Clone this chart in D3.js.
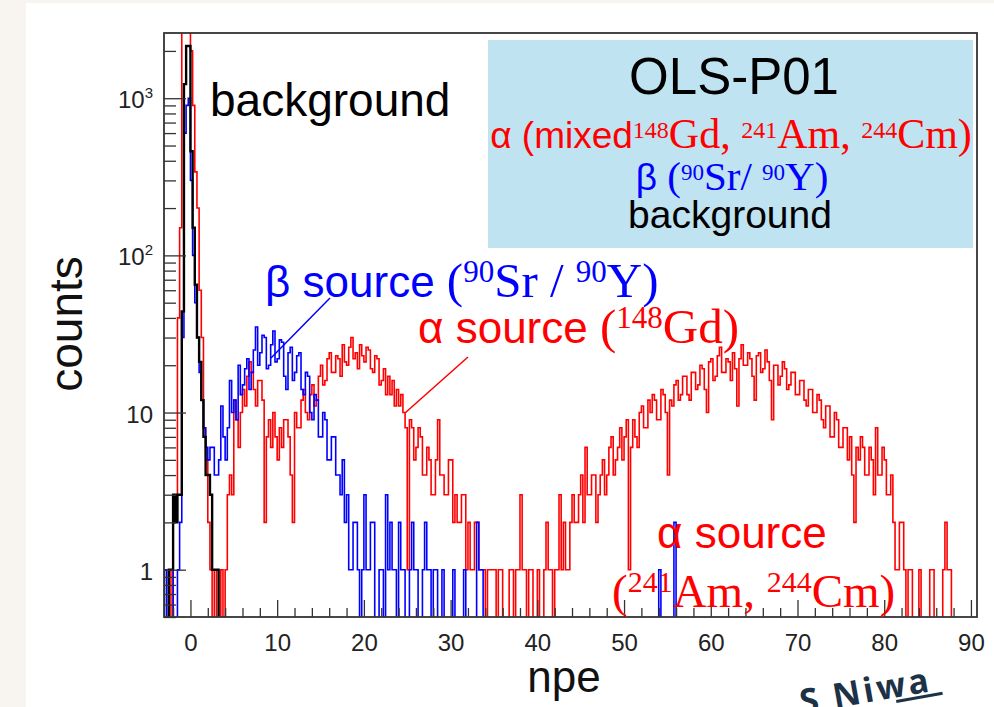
<!DOCTYPE html>
<html>
<head>
<meta charset="utf-8">
<script src="https://cdn.jsdelivr.net/npm/d3@7"></script>
<style>
    body { margin: 0; background: #f8f5f0; }
    svg { display: block; }
    text { white-space: pre; }
</style>
</head>
<body>
<div id="chart"></div>
<script>
// histogram binning (npe)
const binStart = -3,
    binWidth = 0.25;

// alpha source (mixed 148Gd, 241Am, 244Cm), counts per bin
const alphaCounts = [
    0, 0, 1, 0, 2, 3, 40, 150, 3000, 3000, 3500, 3500, 2000, 900, 340, 200, 60, 30, 8, 5,
    2, 1, 0, 1, 0, 0, 1, 0, 1, 3, 4, 3, 12, 9, 6, 10, 14, 11, 17, 21,
    18, 14, 11, 16, 16, 12, 2, 7, 9, 6, 10, 7, 5, 8, 6, 9, 9, 7, 4, 2,
    10, 8, 8, 12, 14, 10, 9, 13, 15, 11, 12, 17, 20, 15, 16, 22, 24, 18, 18, 23,
    22, 17, 27, 21, 20, 26, 30, 22, 24, 19, 27, 23, 21, 26, 25, 19, 18, 23, 22, 15,
    16, 19, 13, 17, 13, 16, 11, 14, 11, 13, 10, 8, 1, 9, 8, 5, 6, 8, 7, 4,
    4, 6, 5, 3, 3, 5, 9, 4, 4, 3, 3, 5, 5, 2, 3, 2, 2, 3, 3, 1,
    2, 1, 1, 2, 2, 1, 1, 1, 0, 1, 1, 1, 1, 0, 1, 1, 0, 0, 0, 1,
    1, 0, 1, 1, 3, 1, 1, 0, 1, 1, 0, 0, 1, 0, 0, 1, 2, 1, 1, 0,
    1, 1, 3, 1, 2, 1, 1, 2, 3, 2, 2, 3, 4, 2, 6, 3, 3, 4, 4, 2,
    3, 4, 5, 3, 4, 6, 7, 4, 5, 6, 8, 5, 7, 9, 1, 6, 9, 7, 6, 10,
    11, 8, 8, 12, 10, 13, 12, 9, 9, 14, 13, 10, 4, 12, 11, 15, 16, 12, 13, 17,
    17, 13, 12, 18, 18, 14, 15, 20, 19, 14, 10, 21, 22, 16, 17, 23, 26, 18, 18, 22,
    21, 16, 24, 19, 11, 22, 27, 20, 20, 24, 22, 17, 12, 23, 24, 18, 19, 25, 21, 16,
    9, 20, 20, 15, 17, 21, 19, 14, 15, 18, 18, 13, 13, 16, 16, 12, 11, 14, 14, 10,
    10, 13, 12, 9, 8, 11, 11, 7, 7, 10, 9, 6, 6, 8, 8, 5, 7, 4, 2, 6,
    5, 7, 6, 4, 4, 6, 5, 3, 8, 4, 4, 6, 5, 3, 3, 4, 2, 1, 1, 2,
    2, 1, 0, 1, 1, 0, 0, 0, 1, 0, 0, 0, 0, 1, 1, 0, 0, 0, 0, 1,
    2, 1, 1, 0, 0, 0, 0, 0, 0, 0, 0, 0
];

// beta source (90Sr / 90Y)
const betaCounts = [
    1, 0, 1, 1, 0, 0, 1, 2, 30, 600, 900, 1000, 300, 100, 50, 30, 18, 12, 8, 6,
    5, 6, 6, 4, 4, 5, 11, 7, 5, 8, 16, 10, 12, 9, 20, 13, 15, 19, 22, 14,
    18, 25, 35, 20, 24, 31, 30, 19, 20, 27, 33, 21, 22, 29, 28, 17, 14, 24, 26, 16,
    18, 23, 24, 14, 13, 18, 17, 10, 9, 13, 12, 7, 7, 10, 9, 5, 5, 7, 7, 4,
    4, 3, 5, 2, 3, 1, 1, 2, 2, 1, 0, 1, 3, 1, 1, 2, 2, 0, 0, 1,
    1, 0, 3, 1, 2, 1, 1, 0, 2, 1, 1, 0, 0, 1, 2, 1, 1, 0, 0, 1,
    2, 1, 1, 0, 1, 1, 0, 0, 1, 0, 0, 0, 0, 1, 0, 0, 0, 0, 1, 0,
    0, 0, 0, 0, 2, 1, 1, 0, 0, 0, 0, 0, 0, 0, 0, 0, 0, 0, 0, 0,
    0, 0, 0, 0, 0, 0, 0, 0, 0, 0, 0, 0, 0, 0, 0, 0, 0, 0, 0, 0,
    0, 0, 0, 0, 0, 0, 0, 0, 0, 0, 0, 0, 0, 0, 0, 0, 0, 0, 0, 0,
    0, 0, 0, 0, 0, 0, 0, 0, 0, 0, 0, 0, 0, 0, 0, 0, 0, 0, 0, 0,
    0, 0, 0, 0, 0, 0, 0, 0, 1, 0, 0, 0, 0, 0, 0, 2
];

// background
const bgCounts = [
    0, 0, 1, 1, 3, 2, 3, 3, 44, 1230, 2150, 2150, 460, 150, 65, 30, 21, 12, 7, 4,
    4, 3, 1, 1, 1, 0
];

// axis ticks and labels
const xMajorTicks = [0, 10, 20, 30, 40, 50, 60, 70, 80, 90];
const yMajorTicks = [1, 10, 100, 1000];
const yTickLabels = [["1", ""], ["10", ""], ["10", "2"], ["10", "3"]];

const sansFont = "'Liberation Sans', Arial, Helvetica, sans-serif",
    serifFont = "'Liberation Serif', 'Times New Roman', serif";

// text pieces: [text, serif?, size, raise]
const legendTitle = [["OLS-P01", false, 51, 0]];
const legendAlpha = [["α (mixed", false, 37, 0], ["148", true, 24, 10], ["Gd, ", true, 42, 0],
    ["241", true, 24, 10], ["Am, ", true, 42, 0], ["244", true, 24, 10], ["Cm)", true, 42, 0]];
const legendBeta = [["β ", false, 37, 0], ["(", true, 41, 0], ["90", true, 23, 10], ["Sr/ ", true, 41, 0],
    ["90", true, 23, 10], ["Y)", true, 41, 0]];
const legendBg = [["background", false, 39, 0]];

const noteBeta = [["β source ", false, 44, 0], ["(", true, 49, 0], ["90", true, 31, 15], ["Sr / ", true, 49, 0],
    ["90", true, 31, 15], ["Y)", true, 49, 0]];
const noteAlphaGd = [["α source ", false, 44, 0], ["(", true, 49, 0], ["148", true, 31, 15], ["Gd)", true, 49, 0]];
const noteAlphaAm1 = [["α source", false, 44, 0]];
const noteAlphaAm2 = [["(", true, 47, 0], ["241", true, 30, 15], ["Am, ", true, 47, 0], ["244", true, 30, 15], ["Cm)", true, 47, 0]];
const noteBg = [["background", false, 46, 0]];

// layout
const svgWidth = 994,
    svgHeight = 707,
    frame = { left: 164, right: 977, top: 33, bottom: 617 };

let svg = d3.select("#chart").append("svg")
    .attr("width", svgWidth)
    .attr("height", svgHeight);

// page backgrounds
svg.append("rect")
    .attr("width", svgWidth).attr("height", svgHeight)
    .attr("fill", "#f8f5f0");
svg.append("rect")
    .attr("x", 26).attr("y", 3)
    .attr("width", svgWidth - 26).attr("height", svgHeight - 3)
    .attr("fill", "#ffffff");

// scales
let xScale = d3.scaleLinear()
    .domain([-3.05, 90.7])
    .range([frame.left, frame.right]);
let yScale = d3.scaleLog()
    .domain([0.5, 2600])
    .range([frame.bottom, frame.top]);

svg.append("defs").append("clipPath").attr("id", "plot-clip")
    .append("rect")
    .attr("x", frame.left).attr("y", frame.top)
    .attr("width", frame.right - frame.left)
    .attr("height", frame.bottom - frame.top);

// legend box
svg.append("rect")
    .attr("x", 488).attr("y", 40)
    .attr("width", 485).attr("height", 208)
    .attr("fill", "#bfe3f1");

function richText(parent, x, y, parts, anchor, color) {
    let t = parent.append("text")
        .attr("x", x).attr("y", y)
        .attr("text-anchor", anchor)
        .attr("fill", color);
    let shift = 0;
    parts.forEach((p) => {
        let s = t.append("tspan")
            .attr("font-family", p[1] ? serifFont : sansFont)
            .attr("font-size", p[2])
            .text(p[0]);
        let target = -p[3];
        if (target !== shift) {
            s.attr("dy", target - shift);
            shift = target;
        }
    });
    return t;
}

richText(svg, 734, 94, legendTitle, "middle", "#000");
richText(svg, 731, 148, legendAlpha, "middle", "#ff0000");
richText(svg, 732, 190, legendBeta, "middle", "#0000ff");
richText(svg, 730, 228, legendBg, "middle", "#000");

// histograms
function stepPath(counts) {
    let pts = [[xScale(binStart), frame.bottom + 2]];
    counts.forEach((c, i) => {
        let lo = binStart + i * binWidth,
            yy = c > 0 ? yScale(c) : frame.bottom + 2;
        pts.push([xScale(lo), yy], [xScale(lo + binWidth), yy]);
    });
    pts.push([xScale(binStart + counts.length * binWidth), frame.bottom + 2]);
    return d3.line()(pts);
}

let plotGroup = svg.append("g").attr("clip-path", "url(#plot-clip)");
plotGroup.append("path")
    .attr("d", stepPath(alphaCounts))
    .attr("fill", "none").attr("stroke", "#ff0000").attr("stroke-width", 1.6);
plotGroup.append("path")
    .attr("d", stepPath(betaCounts))
    .attr("fill", "none").attr("stroke", "#0000ff").attr("stroke-width", 1.6);
plotGroup.append("path")
    .attr("d", stepPath(bgCounts))
    .attr("fill", "none").attr("stroke", "#000").attr("stroke-width", 2.4);

// axes (ROOT style, ticks inside the frame)
let xMinor = d3.range(-2, 91, 2).filter((d) => d % 10 !== 0);
let xAxisGroup = svg.append("g")
    .attr("transform", `translate(0, ${frame.bottom})`)
    .call(d3.axisBottom(xScale).tickValues(xMajorTicks).tickSize(-17).tickPadding(17).tickFormat((d) => d));
xAxisGroup.append("g")
    .call(d3.axisBottom(xScale).tickValues(xMinor).tickSize(-9).tickFormat(""));
xAxisGroup.selectAll(".domain").remove();
xAxisGroup.selectAll("text")
    .attr("font-family", sansFont)
    .attr("font-size", 24)
    .attr("fill", "#222");

let yMinor = [];
[0.1, 1, 10, 100, 1000].forEach((dec) => {
    for (let k = 2; k <= 9; k++) {
        let v = dec * k;
        if (v >= 0.5 && v <= 2600) yMinor.push(v);
    }
});
let yAxisGroup = svg.append("g")
    .attr("transform", `translate(${frame.left}, 0)`)
    .call(d3.axisLeft(yScale).tickValues(yMajorTicks).tickSize(-22).tickFormat(""));
yAxisGroup.append("g")
    .call(d3.axisLeft(yScale).tickValues(yMinor).tickSize(-12).tickFormat(""));
yAxisGroup.selectAll(".domain").remove();
svg.selectAll(".tick line").attr("stroke", "#333").attr("stroke-width", 1.3);

yMajorTicks.forEach((v, i) => {
    let lab = yTickLabels[i];
    let t = svg.append("text")
        .attr("x", 153)
        .attr("y", yScale(v) + 10)
        .attr("text-anchor", "end")
        .attr("font-family", sansFont)
        .attr("fill", "#222");
    t.append("tspan").attr("font-size", 24).text(lab[0]);
    if (lab[1]) {
        t.append("tspan").attr("font-size", 15).attr("dy", -10).text(lab[1]);
    }
});

// frame
svg.append("rect")
    .attr("x", frame.left).attr("y", frame.top)
    .attr("width", frame.right - frame.left)
    .attr("height", frame.bottom - frame.top)
    .attr("fill", "none")
    .attr("stroke", "#333")
    .attr("stroke-width", 1.8);

// axis titles
svg.append("text")
    .attr("transform", "translate(82, 324) rotate(-90)")
    .attr("text-anchor", "middle")
    .attr("font-family", sansFont)
    .attr("font-size", 46)
    .attr("fill", "#111")
    .text("counts");
svg.append("text")
    .attr("x", 564).attr("y", 692)
    .attr("text-anchor", "middle")
    .attr("font-family", sansFont)
    .attr("font-size", 44)
    .attr("fill", "#111")
    .text("npe");

// annotations
richText(svg, 210, 116, noteBg, "start", "#000");
richText(svg, 265, 297, noteBeta, "start", "#0000ff");
richText(svg, 418, 343, noteAlphaGd, "start", "#ff0000");
richText(svg, 657, 548, noteAlphaAm1, "start", "#ff0000");
richText(svg, 612, 607, noteAlphaAm2, "start", "#ff0000");

svg.append("line")
    .attr("x1", 330).attr("y1", 298).attr("x2", 271).attr("y2", 358)
    .attr("stroke", "#0000ff").attr("stroke-width", 1.5);
svg.append("line")
    .attr("x1", 468).attr("y1", 357).attr("x2", 405).attr("y2", 413)
    .attr("stroke", "#ff0000").attr("stroke-width", 1.5);

// watermark, cut off by the page edge
let mark = svg.append("g").attr("transform", "translate(802, 714) rotate(-10)");
mark.append("text")
    .attr("font-family", "'Open Sans', sans-serif")
    .attr("font-weight", 700)
    .attr("font-size", 34)
    .attr("letter-spacing", 3)
    .attr("fill", "#1d3246")
    .text("S Niwa");
mark.append("line")
    .attr("x1", 95).attr("y1", 4).attr("x2", 142).attr("y2", 4)
    .attr("stroke", "#1d3246").attr("stroke-width", 3);
</script>
</body>
</html>
